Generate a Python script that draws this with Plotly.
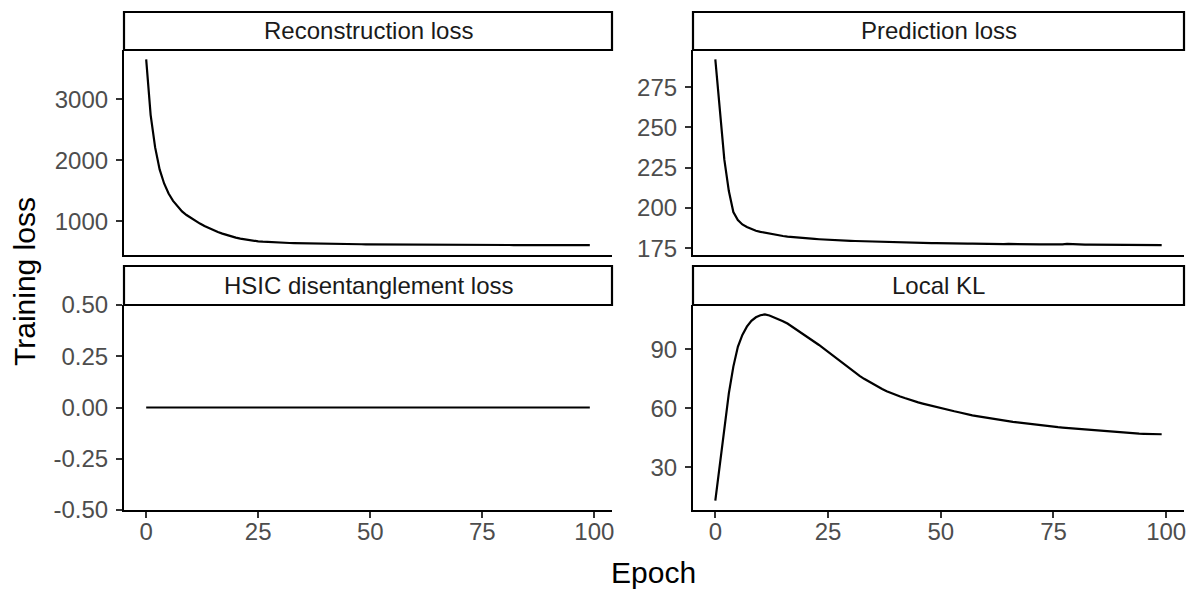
import plotly.graph_objects as go

epochs = list(range(100))

recon = [3653, 2740, 2210, 1850, 1620, 1455, 1335, 1240, 1163, 1103,
         1052, 1005, 963, 923, 887, 853, 825, 799, 775, 753,
         733, 716, 702, 690, 680, 672, 666, 661, 657, 653,
         650, 647, 645, 643, 641, 639, 637, 636, 634, 633,
         632, 631, 630, 629, 628, 627, 626, 626, 625, 624,
         624, 623, 622, 622, 621, 621, 620, 620, 619, 619,
         618, 618, 618, 617, 617, 616, 616, 616, 615, 615,
         615, 614, 614, 614, 613, 613, 613, 613, 612, 612,
         612, 612, 611, 611, 611, 611, 611, 610, 610, 610,
         610, 610, 610, 610, 609, 609, 609, 609, 609, 609]

pred = [292.3, 260.0, 230.0, 210.5, 197.5, 192.5, 189.8, 188.2, 186.9, 185.9,
        185.2, 184.6, 184.1, 183.6, 183.1, 182.6, 182.2, 181.9, 181.7, 181.4,
        181.2, 181.0, 180.8, 180.6, 180.4, 180.5, 180.1, 179.9, 179.8, 179.7,
        179.6, 179.5, 179.4, 179.3, 179.2, 179.1, 179.0, 178.9, 178.8, 178.8,
        178.7, 178.6, 178.6, 178.5, 178.4, 178.4, 178.3, 178.3, 178.2, 178.2,
        178.1, 178.1, 178.0, 178.0, 178.0, 177.9, 177.9, 177.9, 177.8, 177.8,
        177.8, 177.7, 177.7, 177.7, 177.6, 177.7, 177.6, 177.5, 177.5, 177.5,
        177.4, 177.4, 177.4, 177.4, 177.3, 177.3, 177.3, 177.4, 177.7, 177.5,
        177.3, 177.2, 177.2, 177.2, 177.2, 177.1, 177.1, 177.1, 177.0, 177.1,
        177.0, 177.0, 177.0, 177.0, 176.9, 176.9, 176.9, 176.9, 176.9, 177.0]

hsic = [0.0] * 100

local_kl = [13.0, 30.3, 49.0, 67.6, 81.2, 91.3, 97.3, 101.5, 104.5, 106.3,
            107.3, 107.8, 107.2, 106.3, 105.3, 104.3, 103.1, 101.6, 99.9, 98.5,
            97.0, 95.5, 93.9, 92.2, 90.5, 88.7, 86.9, 85.1, 83.3, 81.5,
            79.8, 78.1, 76.5, 75.0, 73.6, 72.3, 71.0, 69.8, 68.7, 67.7,
            66.8, 66.0, 65.2, 64.4, 63.7, 63.0, 62.4, 61.8, 61.2, 60.6,
            60.1, 59.6, 59.1, 58.5, 58.0, 57.4, 56.9, 56.4, 56.0, 55.6,
            55.2, 54.8, 54.5, 54.1, 53.8, 53.4, 53.1, 52.8, 52.5, 52.2,
            51.9, 51.6, 51.3, 51.1, 50.8, 50.6, 50.4, 50.2, 50.0, 49.8,
            49.6, 49.4, 49.2, 49.0, 48.8, 48.6, 48.4, 48.2, 48.0, 47.8,
            47.7, 47.5, 47.3, 47.2, 47.1, 47.0, 46.9, 46.9, 46.8, 46.8]

panel_titles = ["Reconstruction loss", "Prediction loss",
                "HSIC disentanglement loss", "Local KL"]
x_ticks = [0, 25, 50, 75, 100]
y_ticks = [[1000, 2000, 3000],
           [175, 200, 225, 250, 275],
           [-0.5, -0.25, 0, 0.25, 0.5],
           [30, 60, 90]]
y_ticktext = [["1000", "2000", "3000"],
              ["175", "200", "225", "250", "275"],
              ["-0.50", "-0.25", "0.00", "0.25", "0.50"],
              ["30", "60", "90"]]
x_title = "Epoch"
y_title = "Training loss"

W, H = 1200, 600
FONT = "Liberation Sans, Arial, Helvetica, sans-serif"


def expand(vals):
    lo, hi = min(vals), max(vals)
    if hi - lo == 0:
        return [lo - 0.5, hi + 0.5]
    d = (hi - lo) * 0.05
    return [lo - d, hi + d]


cols = [(124, 612), (693, 1184)]
rows = [(50, 254.5, 12), (305, 510, 266)]

series = [recon, pred, hsic, local_kl]
fig = go.Figure()
shapes = []
annotations = []
layout_axes = {}

for i, s in enumerate(series):
    r, c = divmod(i, 2)
    left, right = cols[c]
    top, bottom, stop = rows[r]
    idx = "" if i == 0 else str(i + 1)
    fig.add_trace(go.Scatter(x=epochs, y=s, mode="lines",
                             line=dict(color="black", width=2.2),
                             xaxis="x" + idx, yaxis="y" + idx,
                             showlegend=False, hoverinfo="skip"))
    layout_axes["xaxis" + idx] = dict(
        domain=[left / W, right / W], anchor="y" + idx,
        range=expand(epochs), showgrid=False, zeroline=False,
        showline=True, linecolor="black", linewidth=2.2,
        ticks="outside" if r == 1 else "", ticklen=6, tickwidth=2,
        tickcolor="#333333", tickvals=x_ticks,
        showticklabels=(r == 1), automargin=False,
        ticklabelstandoff=-7,
        tickfont=dict(family=FONT, size=24, color="#4D4D4D"))
    layout_axes["yaxis" + idx] = dict(
        domain=[1 - bottom / H, 1 - top / H], anchor="x" + idx,
        range=expand(s), showgrid=False, zeroline=False,
        showline=True, linecolor="black", linewidth=2.2,
        ticks="outside", ticklen=6, tickwidth=2, tickcolor="#333333",
        tickvals=y_ticks[i], ticktext=y_ticktext[i],
        ticklabelstandoff=3, automargin=False,
        tickfont=dict(family=FONT, size=24, color="#4D4D4D"))
    shapes.append(dict(type="rect", xref="paper", yref="paper",
                       x0=left / W, x1=right / W,
                       y0=1 - top / H, y1=1 - stop / H,
                       line=dict(color="black", width=2.2),
                       fillcolor="white", layer="above"))
    annotations.append(dict(text=panel_titles[i], xref="paper", yref="paper",
                            x=(left + right) / 2 / W,
                            y=1 - (top + stop) / 2 / H,
                            xanchor="center", yanchor="middle",
                            showarrow=False,
                            font=dict(family=FONT, size=24, color="#1A1A1A")))

annotations.append(dict(text=x_title, xref="paper", yref="paper",
                        x=653 / W, y=1 - 572 / H, xanchor="center",
                        yanchor="middle", showarrow=False,
                        font=dict(family=FONT, size=30, color="black")))
annotations.append(dict(text=y_title, xref="paper", yref="paper",
                        x=24 / W, y=1 - 282 / H, xanchor="center",
                        yanchor="middle", showarrow=False, textangle=-90,
                        font=dict(family=FONT, size=30, color="black")))

fig.update_layout(width=W, height=H, margin=dict(l=0, r=0, t=0, b=0),
                  paper_bgcolor="white", plot_bgcolor="white",
                  shapes=shapes, annotations=annotations, **layout_axes)

fig.write_html("out.html")
